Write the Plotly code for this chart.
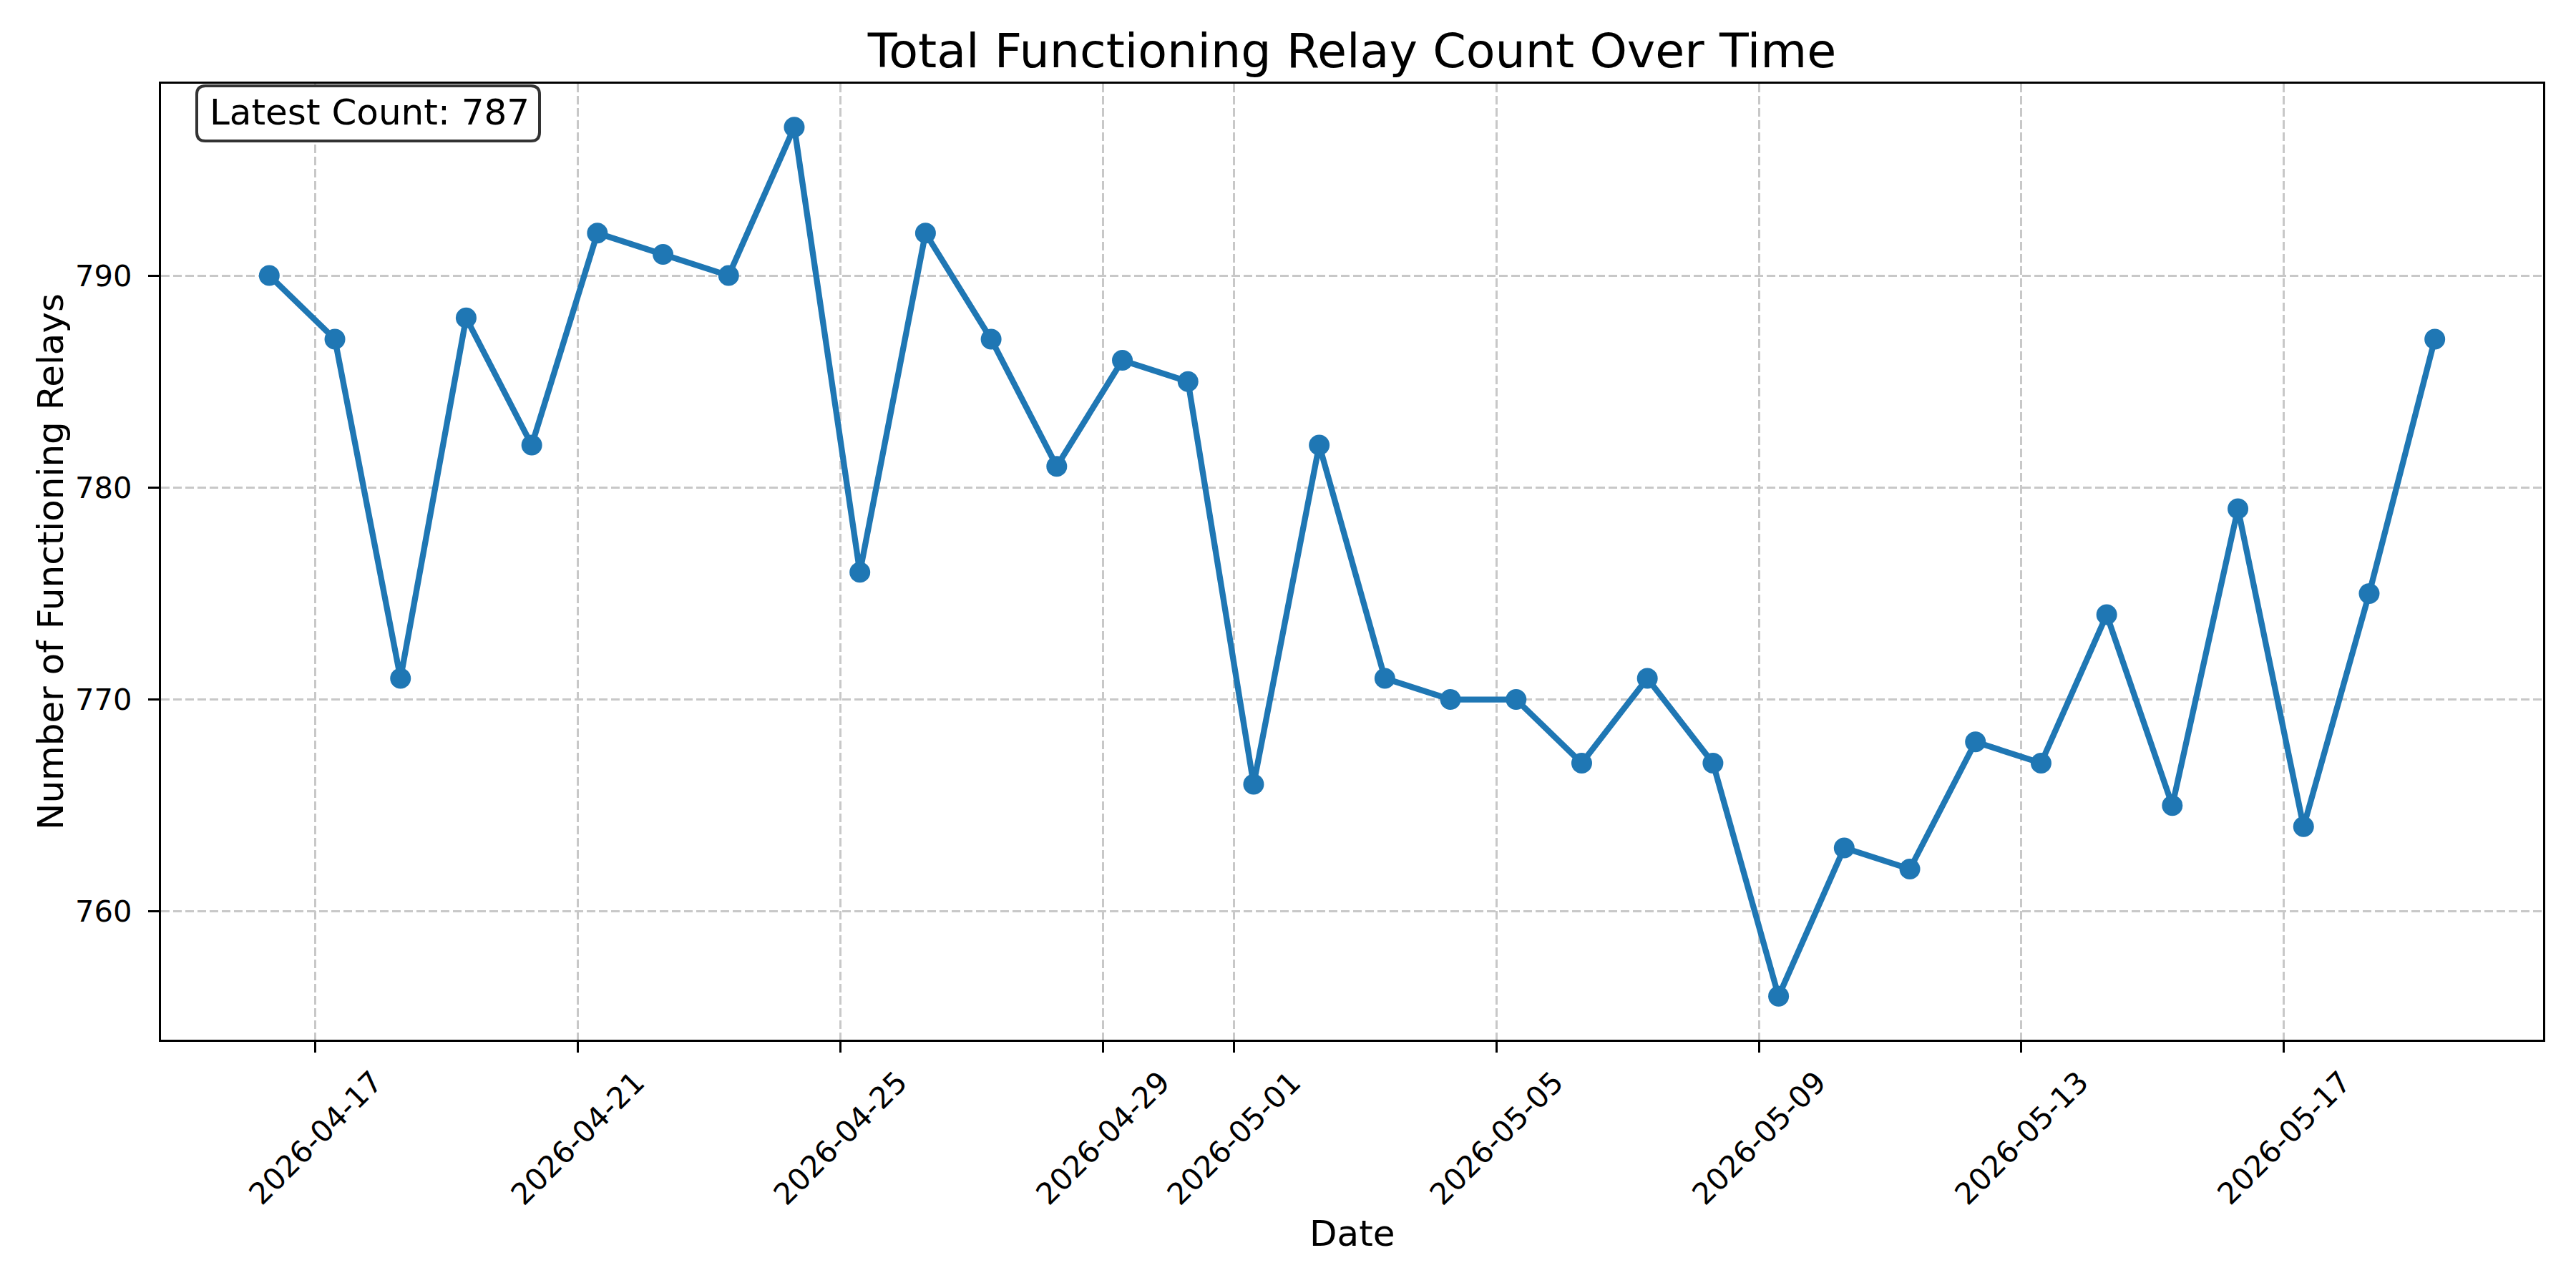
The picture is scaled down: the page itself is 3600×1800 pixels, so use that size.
import plotly.graph_objects as go
import pandas as pd

# ---- data ----
start_time = "2026-04-16 07:12"
relay_counts = [790, 787, 771, 788, 782, 792, 791, 790, 797, 776,
                792, 787, 781, 786, 785, 766, 782, 771, 770, 770,
                767, 771, 767, 756, 763, 762, 768, 767, 774, 765,
                779, 764, 775, 787]
dates = pd.date_range(start=start_time, periods=len(relay_counts), freq="D")
x_tick_dates = ["2026-04-17", "2026-04-21", "2026-04-25", "2026-04-29",
                "2026-05-01", "2026-05-05", "2026-05-09", "2026-05-13", "2026-05-17"]
y_ticks = [760, 770, 780, 790]
title_text = "Total Functioning Relay Count Over Time"
x_label = "Date"
y_label = "Number of Functioning Relays"
latest_label = f"Latest Count: {relay_counts[-1]}"

# ---- layout geometry (pixels) ----
W, H = 3600, 1800
L, R, T, B = 225, 3554, 117, 1453
PW, PH = R - L, B - T
FONT = "DejaVu Sans"
BLUE = "#1f77b4"
GRID = "#c8c8c8"

# matplotlib-like 5% autoscale margins
span = dates[-1] - dates[0]
x_range = [dates[0] - 0.05 * span, dates[-1] + 0.05 * span]
ymin, ymax = min(relay_counts), max(relay_counts)
yspan = ymax - ymin
y_range = [ymin - 0.05 * yspan, ymax + 0.05 * yspan]

fig = go.Figure()
fig.add_trace(go.Scatter(
    x=dates, y=relay_counts, mode="lines+markers",
    line=dict(color=BLUE, width=8.3),
    marker=dict(color=BLUE, size=29, line=dict(width=0)),
    showlegend=False,
))

def py(px_y):
    return (B - px_y) / PH

def px_(px_x):
    return (px_x - L) / PW

annotations = []
# x tick labels (rotated, centered like matplotlib)
for d in x_tick_dates:
    annotations.append(dict(
        x=d, xref="x", y=py(1486), yref="paper",
        text=d, showarrow=False, textangle=-45,
        xanchor="center", yanchor="top",
        font=dict(family=FONT, size=41.7, color="black"),
        borderpad=0,
    ))
# axis titles
annotations.append(dict(
    x=0.5, xref="paper", y=py(1724), yref="paper", text=x_label,
    showarrow=False, xanchor="center", yanchor="middle",
    font=dict(family=FONT, size=50, color="black"),
))
annotations.append(dict(
    x=px_(71), xref="paper", y=0.5, yref="paper", text=y_label,
    showarrow=False, xanchor="center", yanchor="middle", textangle=-90,
    font=dict(family=FONT, size=50, color="black"),
))
# latest count text
annotations.append(dict(
    x=0.02, xref="paper", y=py(157), yref="paper", text=latest_label,
    showarrow=False, xanchor="left", yanchor="middle",
    font=dict(family=FONT, size=50, color="black"), borderpad=0,
))

# rounded box around the latest count
bx0, bx1 = px_(275), px_(754)
by0, by1 = py(197), py(120)
rx, ry = 12 / PW, 12 / PH
path = (f"M {bx0+rx},{by0} L {bx1-rx},{by0} Q {bx1},{by0} {bx1},{by0+ry} "
        f"L {bx1},{by1-ry} Q {bx1},{by1} {bx1-rx},{by1} "
        f"L {bx0+rx},{by1} Q {bx0},{by1} {bx0},{by1-ry} "
        f"L {bx0},{by0+ry} Q {bx0},{by0} {bx0+rx},{by0} Z")
shapes = [dict(type="path", path=path, xref="paper", yref="paper",
               line=dict(color="#333333", width=4), fillcolor="white", layer="above")]

fig.update_layout(
    width=W, height=H,
    margin=dict(l=L, r=W - R, t=T, b=H - B, pad=0),
    paper_bgcolor="white", plot_bgcolor="white",
    font=dict(family=FONT, color="black"),
    title=dict(text=title_text, x=0.5, xref="paper", xanchor="center",
               y=1 - 71 / H, yref="container", yanchor="middle",
               font=dict(family=FONT, size=66.7, color="black")),
    annotations=annotations,
    shapes=shapes,
    xaxis=dict(
        type="date", range=x_range, tickvals=x_tick_dates, showticklabels=False,
        ticks="outside", ticklen=15, tickwidth=3.3, tickcolor="black",
        showline=True, linecolor="black", linewidth=3.3, mirror=True,
        showgrid=True, gridcolor=GRID, gridwidth=3.3, griddash="12px,5px",
        zeroline=False,
    ),
    yaxis=dict(
        range=y_range, tickvals=y_ticks, ticktext=[str(v) for v in y_ticks],
        ticks="outside", ticklen=15, tickwidth=3.3, tickcolor="black",
        tickfont=dict(family=FONT, size=41.7, color="black"), ticklabelstandoff=14,
        showline=True, linecolor="black", linewidth=3.3, mirror=True,
        showgrid=True, gridcolor=GRID, gridwidth=3.3, griddash="12px,5px",
        zeroline=False,
    ),
)

fig.write_html("out.html")
